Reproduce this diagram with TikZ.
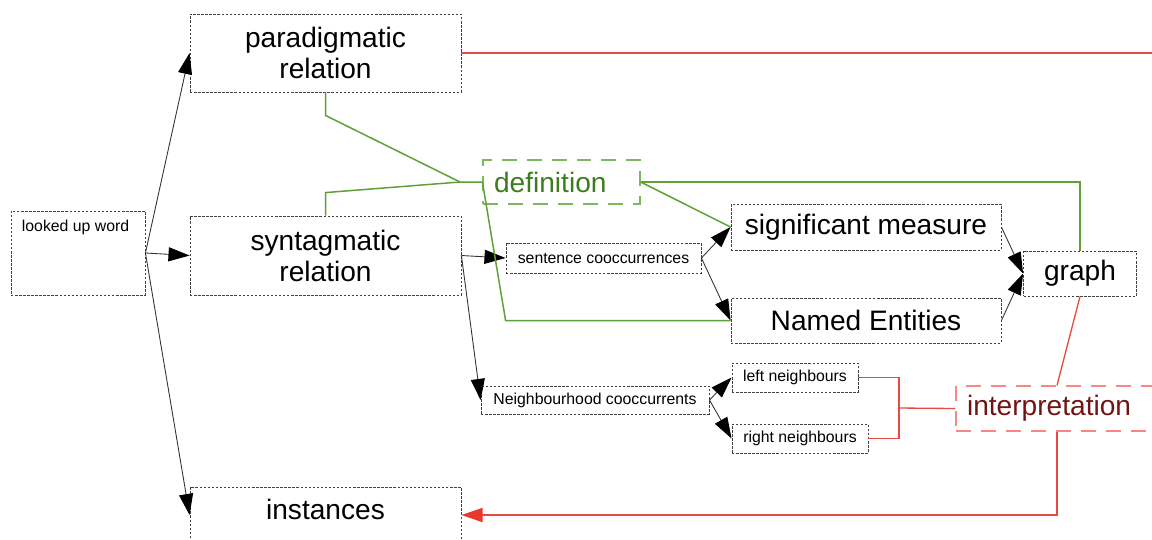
\documentclass[tikz,border=0pt]{standalone}
\usepackage{fontspec}
\setmainfont{Liberation Sans}
\usetikzlibrary{arrows.meta}
\definecolor{defgreen}{RGB}{60,125,30}
\definecolor{linegreen}{RGB}{95,160,55}
\definecolor{dashgreen}{RGB}{125,185,90}
\definecolor{intred}{RGB}{115,20,20}
\definecolor{linered}{RGB}{230,75,65}
\definecolor{tipred}{RGB}{235,55,45}
\definecolor{dashred}{RGB}{245,135,135}
\tikzset{
  box/.style={draw=black!75, dash pattern=on 1.4pt off 0.9pt, line width=0.5pt, inner sep=0pt, align=center},
  bigtext/.style={font=\fontsize{16}{17.6}\selectfont},
  smalltext/.style={font=\fontsize{9}{10.8}\selectfont},
  arr/.style={draw=black!80, line width=0.5pt, -{Triangle[length=12pt,width=8pt,color=black]}},
  greenline/.style={draw=linegreen, line width=0.85pt},
  redline/.style={draw=linered, line width=0.75pt},
}
\begin{document}
\begin{tikzpicture}[x=0.02cm, y=-0.02cm]
  \useasboundingbox (0,0) rectangle (1152,539);
  \node[box, minimum width=2.68cm, minimum height=1.68cm,
    label={[name=wordtxt, smalltext, anchor=north west, inner sep=0pt, xshift=0.22cm, yshift=-0.18cm]north west:looked up word}]
    (word) at (78,253) {};
  \node[box, bigtext, minimum width=5.42cm, minimum height=1.56cm] (para) at (325.5,53) {paradigmatic\\relation};
  \node[box, bigtext, minimum width=5.42cm, minimum height=1.58cm] (synt) at (325.5,255.5) {syntagmatic\\relation};
  \node[box, bigtext, minimum width=5.42cm, minimum height=1.12cm, text depth=6.8pt] (inst) at (325.5,515) {instances};
  \node[draw=dashgreen, dash pattern=on 8.5pt off 5.7pt, line width=0.7pt, bigtext, text=defgreen,
    text width=2.7cm, inner xsep=0.22cm, inner ysep=0pt, minimum height=0.88cm, align=left] (def) at (561.5,182) {definition};
  \node[box, smalltext, minimum width=3.9cm, minimum height=0.6cm] (sent) at (603.5,258) {sentence cooccurrences};
  \node[box, smalltext, minimum width=4.56cm, minimum height=0.56cm] (neigh) at (595,400) {Neighbourhood cooccurrents};
  \node[box, bigtext, minimum width=5.4cm, minimum height=0.92cm] (sig) at (866,227) {significant measure};
  \node[box, bigtext, minimum width=5.4cm, minimum height=0.9cm] (named) at (866,320.5) {Named Entities};
  \node[box, bigtext, minimum width=2.26cm, minimum height=0.9cm] (grph) at (1080,273.5) {graph};
  \node[box, smalltext, minimum width=2.52cm, minimum height=0.58cm] (left) at (795,377.5) {left neighbours};
  \node[box, smalltext, minimum width=2.72cm, minimum height=0.58cm] (right) at (800,438.5) {right neighbours};
  \node[draw=dashred, dash pattern=on 8.5pt off 5.7pt, line width=0.7pt, bigtext, text=intred,
    text width=3.6cm, inner xsep=0.22cm, inner ysep=0pt, minimum height=0.9cm, align=left] (interp) at (1057,408.5) {interpretation};
  \coordinate (defjoin) at (460,182);
  \coordinate (defcorner) at (1080,182);
  \coordinate (brk) at (899,408);
  \coordinate (offpage) at (1170,53);
  \begin{scope}[arr]
    \draw (word.east) -- (para.west);
    \draw (word.east) -- (synt.west);
    \draw (word.east) -- (inst.west);
    \draw (synt.east) -- (sent.west);
    \draw (synt.east) -- (neigh.west);
    \draw (sent.east) -- (sig.west);
    \draw (sent.east) -- (named.west);
    \draw (neigh.east) -- (left.west);
    \draw (neigh.east) -- (right.west);
    \draw (sig.east) -- (grph.west);
    \draw (named.east) -- (grph.west);
  \end{scope}
  \begin{scope}[greenline]
    \draw (para.south) -- ++(0,23) -- (defjoin) -- (def.west);
    \draw (synt.north) -- ++(0,-23) -- (defjoin);
    \draw (def.west) -- (sent.west |- named.west) -- (named.west);
    \draw (def.east) -- (sig.west);
    \draw (def.east) -- (defcorner) -- (grph.north);
  \end{scope}
  \begin{scope}[redline]
    \draw (para.east) -- (offpage);
    \draw (left.east) -| (brk) |- (right.east);
    \draw (brk) -- (interp.west);
    \draw (grph.south) -- (interp.north);
    \draw[-{Triangle[length=12pt,width=8pt,color=tipred]}] (interp.south) |- (inst.east);
  \end{scope}
\end{tikzpicture}
\end{document}
